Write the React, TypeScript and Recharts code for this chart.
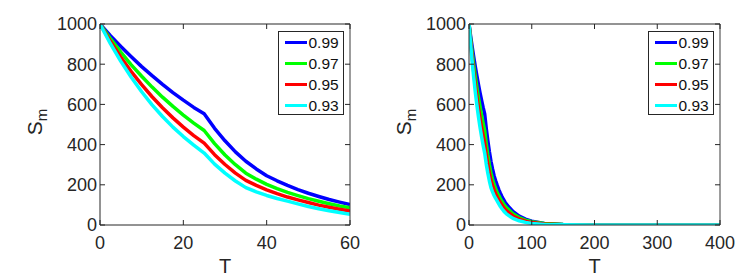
import React from 'react';
import { LineChart, Line, XAxis, YAxis, Legend } from 'recharts';

// ---- data ----
const T_MAIN = [
  0, 2.5, 5, 7.5, 10, 12.5, 15, 17.5, 20, 22.5, 25, 27.5, 30, 32.5, 35, 37.5, 40, 42.5, 45, 47.5, 50, 52.5, 55,
  57.5, 60,
];
const S099_MAIN = [
  1000, 942, 888, 837, 788, 743, 700, 659, 621, 585, 553, 481, 419, 364, 317, 279, 245, 220, 197, 176, 158, 142, 127,
  114, 102,
];
const S097_MAIN = [
  1000, 927, 860, 797, 740, 686, 636, 590, 547, 507, 470, 405, 348, 300, 258, 228, 202, 181, 162, 146, 131, 118, 106,
  95, 86,
];
const S095_MAIN = [
  1000, 914, 835, 763, 698, 638, 583, 533, 487, 445, 407, 350, 301, 258, 222, 197, 175, 156, 139, 125, 112, 99, 88, 78,
  70,
];
const S093_MAIN = [
  1000, 902, 814, 735, 663, 598, 540, 487, 440, 397, 358, 303, 258, 219, 186, 165, 147, 132, 119, 105, 92, 81, 71, 62,
  54,
];

const T_EXT = [70, 80, 90, 100, 120, 150, 200, 300, 400];
const S099_EXT = [67, 44, 29, 19, 8, 2, 0, 0, 0];
const S097_EXT = [56, 37, 24, 16, 7, 2, 0, 0, 0];
const S095_EXT = [45, 29, 19, 12, 5, 1, 0, 0, 0];
const S093_EXT = [33, 21, 13, 8, 3, 1, 0, 0, 0];

const Y_TICKS = [0, 200, 400, 600, 800, 1000];
const X_TICKS_LEFT = [0, 20, 40, 60];
const X_TICKS_RIGHT = [0, 100, 200, 300, 400];
const SERIES_NAMES = ['0.99', '0.97', '0.95', '0.93'];

// ---- styles ----
const FONT = '"Liberation Sans", Arial, Helvetica, sans-serif';
const AXIS = '#262626';
const COLORS = ['#0000ff', '#00ff00', '#ff0000', '#00ffff'];
const KEYS = ['s099', 's097', 's095', 's093'];

function buildRows(ts: number[], a: number[], b: number[], c: number[], d: number[]) {
  return ts.map((t, i) => ({ T: t, s099: a[i], s097: b[i], s095: c[i], s093: d[i] }));
}

const leftData = buildRows(T_MAIN, S099_MAIN, S097_MAIN, S095_MAIN, S093_MAIN);
const rightData = buildRows(
  [...T_MAIN, ...T_EXT],
  [...S099_MAIN, ...S099_EXT],
  [...S097_MAIN, ...S097_EXT],
  [...S095_MAIN, ...S095_EXT],
  [...S093_MAIN, ...S093_EXT]
);

const W = 377;
const H = 279;
const PLOT_TOP = 24;
const PLOT_BOTTOM = 225;
const X_AXIS_H = 30;
const Y_AXIS_W = 40;
const EDGE = 2;
const TICK_FS = 18;

const XTick = (props: any) => {
  const { x, y, payload } = props;
  return (
    <g>
      <line x1={x} y1={y} x2={x} y2={y - 5} stroke={AXIS} strokeWidth={1} />
      <text x={x} y={y + 24} textAnchor="middle" fontSize={TICK_FS} fill={AXIS} fontFamily={FONT}>
        {payload.value}
      </text>
    </g>
  );
};

const YTick = (props: any) => {
  const { x, y, payload } = props;
  return (
    <g>
      <line x1={x} y1={y} x2={x + 5} y2={y} stroke={AXIS} strokeWidth={1} />
      <text x={x - 3} y={y} dy="0.36em" textAnchor="end" fontSize={TICK_FS} fill={AXIS} fontFamily={FONT}>
        {payload.value}
      </text>
    </g>
  );
};

const TopTick = (props: any) => {
  const { x, y } = props;
  return <line x1={x} y1={y} x2={x} y2={y + 5} stroke={AXIS} strokeWidth={1} />;
};

const RightTick = (props: any) => {
  const { x, y } = props;
  return <line x1={x} y1={y} x2={x - 5} y2={y} stroke={AXIS} strokeWidth={1} />;
};

const LegendBox = () => (
  <div
    style={{
      width: 64,
      height: 82,
      border: `1px solid ${AXIS}`,
      background: '#fff',
      position: 'relative',
      fontFamily: FONT,
    }}
  >
    {SERIES_NAMES.map((name, i) => (
      <div
        key={name}
        style={{
          position: 'absolute',
          left: 0,
          top: 0.5 + i * 21,
          height: 20,
          width: 64,
          display: 'flex',
          alignItems: 'center',
        }}
      >
        <div style={{ marginLeft: 6, width: 22, height: 3, background: COLORS[i] }} />
        <span style={{ marginLeft: 2, fontSize: 15.5, color: '#111', lineHeight: '20px' }}>{name}</span>
      </div>
    ))}
  </div>
);

function Panel({
  data,
  xMax,
  xTicks,
  plotLeft,
  plotRight,
  left,
}: {
  data: any[];
  xMax: number;
  xTicks: number[];
  plotLeft: number;
  plotRight: number;
  left: number;
}) {
  const cx = (plotLeft + plotRight) / 2;
  const margin = {
    top: PLOT_TOP - EDGE,
    bottom: H - PLOT_BOTTOM - X_AXIS_H,
    left: plotLeft - Y_AXIS_W,
    right: W - plotRight - EDGE,
  };
  return (
    <div style={{ position: 'absolute', left, top: 0, width: W, height: H }}>
      <LineChart width={W} height={H} data={data} margin={margin}>
        <XAxis
          dataKey="T"
          type="number"
          domain={[0, xMax]}
          ticks={xTicks}
          interval={0}
          height={X_AXIS_H}
          tickSize={0}
          tickMargin={0}
          tickLine={false}
          axisLine={{ stroke: AXIS, strokeWidth: 1 }}
          tick={XTick}
          allowDataOverflow
          label={{
            content: () => (
              <text x={cx} y={273} textAnchor="middle" fontSize={20} fill={AXIS} fontFamily={FONT}>
                T
              </text>
            ),
          }}
        />
        <XAxis
          xAxisId="top"
          orientation="top"
          dataKey="T"
          type="number"
          domain={[0, xMax]}
          ticks={xTicks}
          interval={0}
          height={EDGE}
          tickSize={0}
          tickMargin={0}
          tickLine={false}
          axisLine={{ stroke: '#6f6f6f', strokeWidth: 1.5 }}
          tick={TopTick}
          allowDataOverflow
        />
        <YAxis
          type="number"
          domain={[0, 1000]}
          ticks={Y_TICKS}
          interval={0}
          width={Y_AXIS_W}
          tickSize={0}
          tickMargin={0}
          tickLine={false}
          axisLine={{ stroke: AXIS, strokeWidth: 1 }}
          tick={YTick}
          allowDataOverflow
          label={{
            content: () => (
              <text
                x={plotLeft - 58}
                y={122}
                transform={`rotate(-90, ${plotLeft - 58}, 122)`}
                textAnchor="middle"
                fontSize={21}
                fill={AXIS}
                fontFamily={FONT}
              >
                S
                <tspan fontSize={15} dy={5}>
                  m
                </tspan>
              </text>
            ),
          }}
        />
        <YAxis
          yAxisId="right"
          orientation="right"
          type="number"
          domain={[0, 1000]}
          ticks={Y_TICKS}
          interval={0}
          width={EDGE}
          tickSize={0}
          tickMargin={0}
          tickLine={false}
          axisLine={{ stroke: '#3a3a3a', strokeWidth: 1 }}
          tick={RightTick}
          allowDataOverflow
        />
        <Legend
          layout="vertical"
          align="center"
          verticalAlign="middle"
          content={() => <LegendBox />}
          wrapperStyle={{ left: plotRight - 6.5 - 66, top: 31, width: 66, height: 84 }}
        />
        {KEYS.map((k, i) => (
          <Line
            key={k}
            dataKey={k}
            name={SERIES_NAMES[i]}
            type="linear"
            stroke={COLORS[i]}
            strokeWidth={3.5}
            strokeLinejoin="round"
            dot={false}
            activeDot={false}
            isAnimationActive={false}
          />
        ))}
      </LineChart>
    </div>
  );
}

export default function App() {
  return (
    <div style={{ position: 'absolute', left: 0, top: 0, width: 754, height: 279, background: '#fff' }}>
      <Panel data={leftData} xMax={60} xTicks={X_TICKS_LEFT} plotLeft={100} plotRight={350} left={0} />
      <Panel data={rightData} xMax={400} xTicks={X_TICKS_RIGHT} plotLeft={92} plotRight={343} left={377} />
    </div>
  );
}
